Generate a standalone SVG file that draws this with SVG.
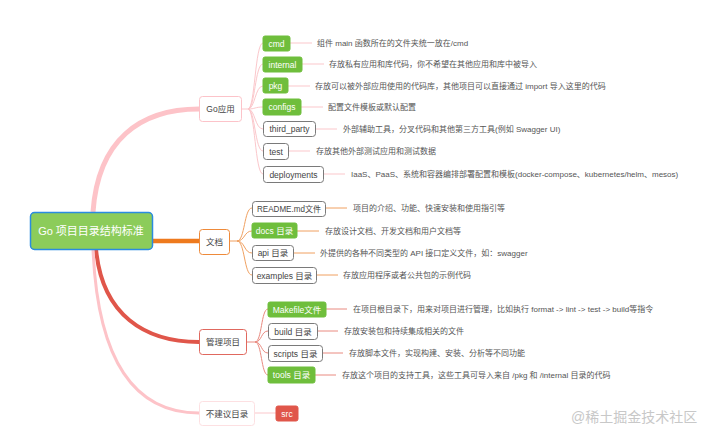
<svg xmlns="http://www.w3.org/2000/svg" width="720" height="439" viewBox="0 0 720 439">
<style>
text{font-family:"Liberation Sans","Noto Sans CJK SC",sans-serif;}
.d{font-size:8px;fill:#555;}
.lb{font-size:8.5px;text-anchor:middle;}
.w{fill:#fff;}
.k{fill:#444;}
.g rect{fill:#6fbe3c;stroke:#6fbe3c;}
.o rect{fill:#fff;stroke:#7a7a7a;stroke-width:1;}
.r rect{fill:#e0564a;stroke:#e0564a;}
.pc{fill:none;stroke:#fbc7cb;stroke-width:1;}
.oc{fill:none;stroke:#f0a060;stroke-width:1;}
.rc{fill:none;stroke:#e98a80;stroke-width:1;}
</style>
<rect width="720" height="439" fill="#fff"/>
<g id="connectors">
<path d="M93,212 C98,140 140,109 199,109" fill="none" stroke="#fdc3c8" stroke-width="5"/>
<path d="M152,241 L199,241" fill="none" stroke="#ee7a1e" stroke-width="4.5"/>
<path d="M96,249 C102,315 145,342 199,342" fill="none" stroke="#e0564a" stroke-width="4"/>
<path d="M93,249 C98,370 140,413 199,413" fill="none" stroke="#fdc3c8" stroke-width="3"/>
<path class="pc" d="M241,109 L248,109"/>
<path class="pc" d="M248,109 C255,109 255,43 263,43"/>
<path class="pc" d="M248,109 C255,109 255,64 263,64"/>
<path class="pc" d="M248,109 C255,109 255,86 263,86"/>
<path class="pc" d="M248,109 C255,109 255,107 263,107"/>
<path class="pc" d="M248,109 C255,109 255,129 263,129"/>
<path class="pc" d="M248,109 C255,109 255,151 263,151"/>
<path class="pc" d="M248,109 C255,109 255,174 263,174"/>
<path class="pc" d="M290,43 L312,43 M302,64 L324,64 M288,86 L310,86 M301,107 L323,107 M315,129 L337,129 M288,151 L310,151 M323,174 L345,174"/>
<path class="oc" d="M229,241 L237,241"/>
<path class="oc" d="M237,241 C245,241 244,208 252,208"/>
<path class="oc" d="M237,241 C245,241 244,231 252,231"/>
<path class="oc" d="M237,241 C245,241 244,253 252,253"/>
<path class="oc" d="M237,241 C245,241 244,275 252,275"/>
<path class="oc" d="M325,208 L347,208 M297,231 L319,231 M293,253 L315,253 M316,275 L338,275"/>
<path class="rc" d="M246,342 L255,342"/>
<path class="rc" d="M255,342 C262,342 261,309 268,309"/>
<path class="rc" d="M255,342 C262,342 261,331 268,331"/>
<path class="rc" d="M255,342 C262,342 261,353 268,353"/>
<path class="rc" d="M255,342 C262,342 261,375 268,375"/>
<path class="rc" d="M326,309 L347,309 M317,331 L338,331 M322,353 L343,353 M315,375 L336,375"/>
<path class="pc" d="M254,413 L276,413"/>
</g>
<g id="root">
<rect x="30.5" y="212.5" width="122" height="37" rx="4" fill="#8ccc5a" stroke="#2a8be0" stroke-width="1.5"/>
<text x="91" y="235" font-size="11" text-anchor="middle" fill="#fff">Go 项目目录结构标准</text>
</g>
<g id="go-app">
<rect x="199.5" y="96.5" width="42" height="25" rx="3" fill="#fff" stroke="#fcc3c9"/>
<text class="lb k" x="220.5" y="112" font-size="9">Go应用</text>
</g>
<g id="docs">
<rect x="199.5" y="229.5" width="30" height="25" rx="3" fill="#fff" stroke="#ee8a3a"/>
<text class="lb k" x="214.5" y="245">文档</text>
</g>
<g id="manage">
<rect x="199.5" y="329.5" width="47" height="25" rx="3" fill="#fff" stroke="#e0685e"/>
<text class="lb k" x="223" y="345">管理项目</text>
</g>
<g id="not-recommended">
<rect x="199.5" y="401.5" width="55" height="24" rx="3" fill="#fff" stroke="#fde0e2"/>
<text class="lb k" x="227" y="416.5">不建议目录</text>
</g>
<g id="cmd" class="g"><rect x="263" y="36" width="27" height="15" rx="2"/><text class="lb w" x="276.5" y="46.5">cmd</text></g>
<g id="internal" class="g"><rect x="263" y="57" width="39" height="15" rx="2"/><text class="lb w" x="282.5" y="67.5">internal</text></g>
<g id="pkg" class="g"><rect x="263" y="78" width="25" height="15" rx="2"/><text class="lb w" x="275.5" y="88.5">pkg</text></g>
<g id="configs" class="g"><rect x="263" y="99" width="38" height="16" rx="2"/><text class="lb w" x="282" y="110">configs</text></g>
<g id="third_party" class="o"><rect x="263.5" y="121.5" width="52" height="15" rx="3"/><text class="lb k" x="289.5" y="132">third_party</text></g>
<g id="test" class="o"><rect x="263.5" y="143.5" width="25" height="16" rx="3"/><text class="lb k" x="276" y="154.5">test</text></g>
<g id="deployments" class="o"><rect x="263.5" y="166.5" width="60" height="16" rx="3"/><text class="lb k" x="293.5" y="177.5">deployments</text></g>
<g id="readme" class="o"><rect x="252.5" y="201.5" width="73" height="15" rx="3"/><text class="lb k" x="289" y="212" textLength="64" lengthAdjust="spacingAndGlyphs">README.md文件</text></g>
<g id="docs-dir" class="g"><rect x="252" y="223" width="45" height="15" rx="2"/><text class="lb w" x="274.5" y="233.5">docs 目录</text></g>
<g id="api" class="o"><rect x="252.5" y="245.5" width="41" height="15" rx="3"/><text class="lb k" x="273" y="256">api 目录</text></g>
<g id="examples" class="o"><rect x="252.5" y="267.5" width="64" height="16" rx="3"/><text class="lb k" x="284.5" y="278.5">examples 目录</text></g>
<g id="makefile" class="g"><rect x="268" y="302" width="58" height="15" rx="2"/><text class="lb w" x="297" y="312.5">Makefile文件</text></g>
<g id="build" class="o"><rect x="268.5" y="323.5" width="49" height="16" rx="3"/><text class="lb k" x="293" y="334.5">build 目录</text></g>
<g id="scripts" class="o"><rect x="268.5" y="345.5" width="54" height="16" rx="3"/><text class="lb k" x="295.5" y="356.5">scripts 目录</text></g>
<g id="tools" class="g"><rect x="268" y="367" width="47" height="16" rx="2"/><text class="lb w" x="291.5" y="378">tools 目录</text></g>
<g id="src" class="r"><rect x="276" y="406" width="22" height="15" rx="2"/><text class="lb w" x="287" y="416.5">src</text></g>
<g id="descriptions">
<text class="d" x="317" y="46">组件 main 函数所在的文件夹统一放在/cmd</text>
<text class="d" x="329" y="67">存放私有应用和库代码，你不希望在其他应用和库中被导入</text>
<text class="d" x="315" y="89">存放可以被外部应用使用的代码库，其他项目可以直接通过 import 导入这里的代码</text>
<text class="d" x="328" y="110">配置文件模板或默认配置</text>
<text class="d" x="343" y="132">外部辅助工具，分叉代码和其他第三方工具(例如 Swagger UI)</text>
<text class="d" x="316" y="154">存放其他外部测试应用和测试数据</text>
<text class="d" x="351" y="177">IaaS、PaaS、系统和容器编排部署配置和模板(docker-compose、kubernetes/helm、mesos)</text>
<text class="d" x="353" y="211">项目的介绍、功能、快速安装和使用指引等</text>
<text class="d" x="325" y="234">存放设计文档、开发文档和用户文档等</text>
<text class="d" x="320" y="256">外提供的各种不同类型的 API 接口定义文件，如：swagger</text>
<text class="d" x="343" y="278">存放应用程序或者公共包的示例代码</text>
<text class="d" x="353" y="312">在项目根目录下，用来对项目进行管理，比如执行 format -&gt; lint -&gt; test -&gt; build等指令</text>
<text class="d" x="344" y="334">存放安装包和持续集成相关的文件</text>
<text class="d" x="349" y="356">存放脚本文件，实现构建、安装、分析等不同功能</text>
<text class="d" x="342" y="378">存放这个项目的支持工具，这些工具可导入来自 /pkg 和 /internal 目录的代码</text>
</g>
<text x="571" y="422" font-size="14" fill="#c8c8c8">@稀土掘金技术社区</text>
</svg>
